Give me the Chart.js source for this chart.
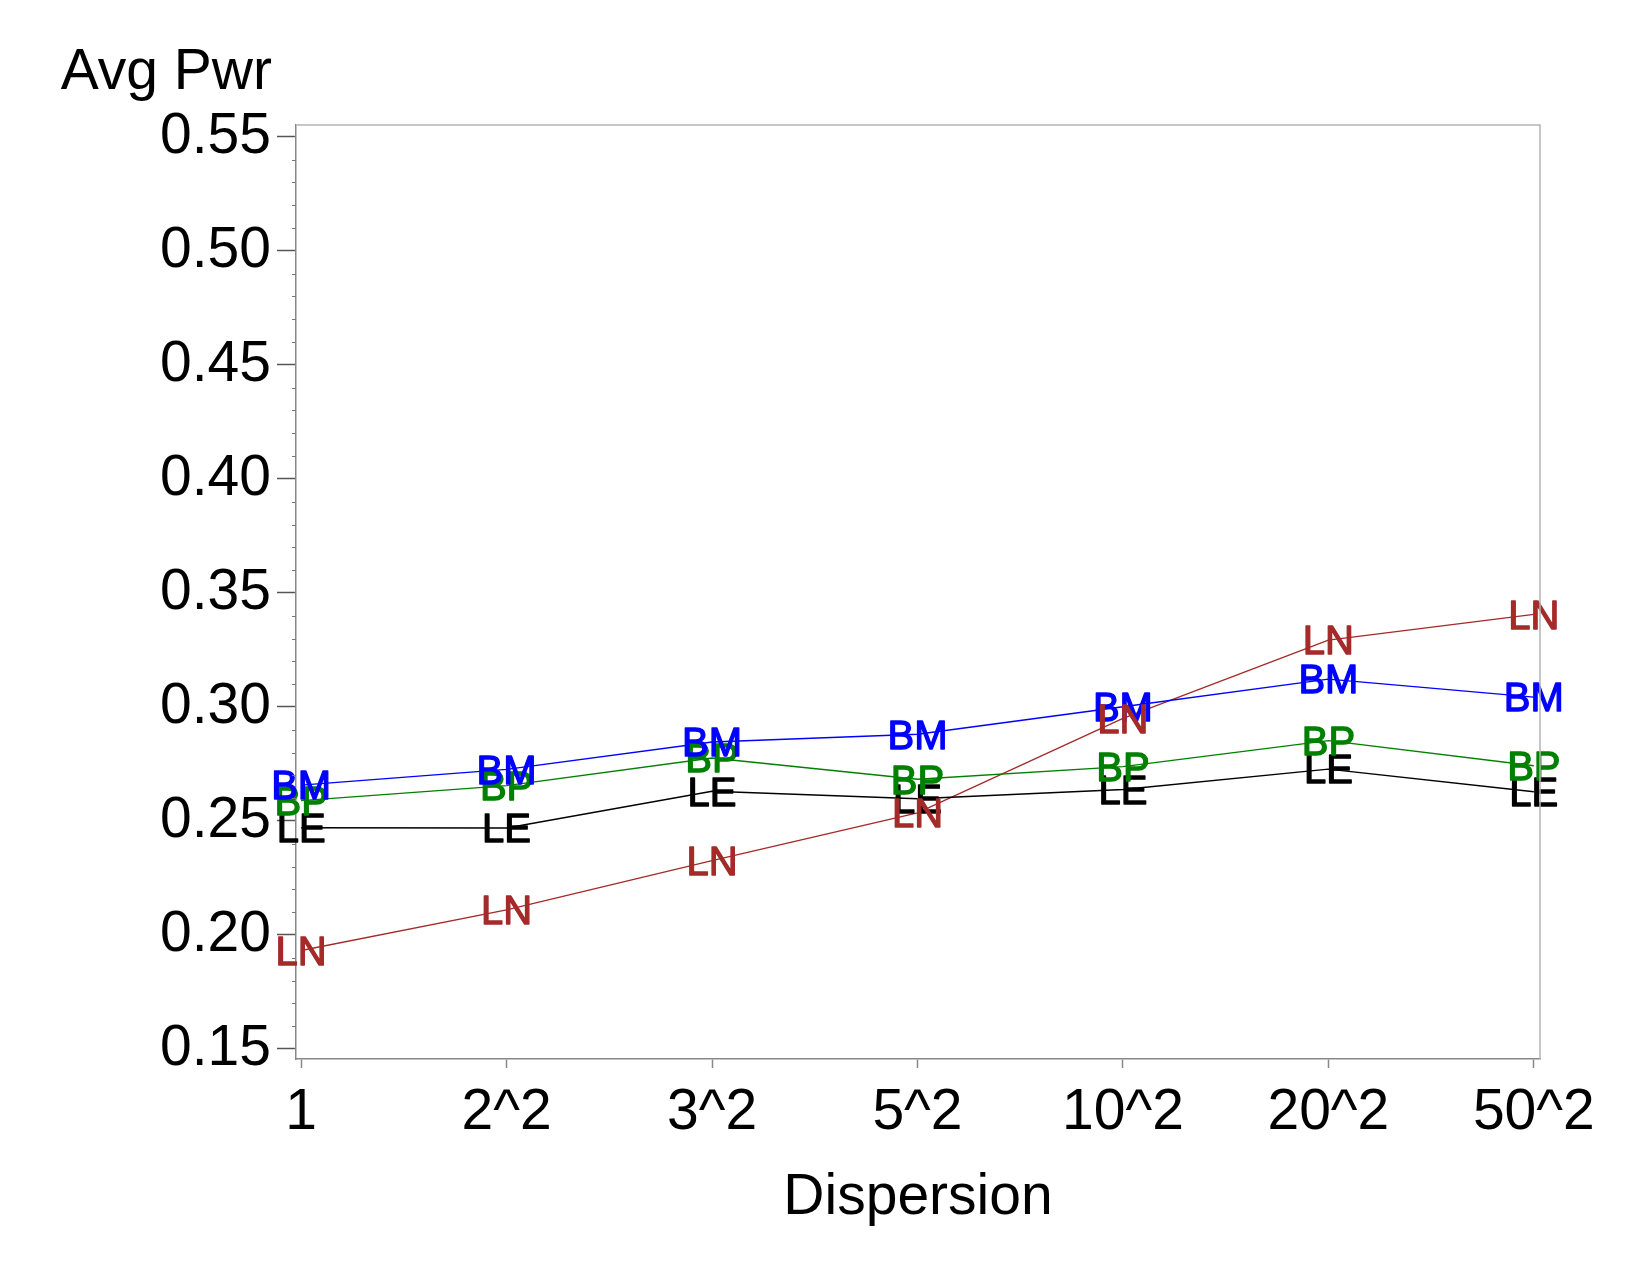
<!DOCTYPE html>
<html>
<head>
<meta charset="utf-8">
<script src="https://cdn.jsdelivr.net/npm/chart.js@4.4.1/dist/chart.umd.min.js"></script>
<style>
  html, body { margin: 0; padding: 0; background: #fff; }
  canvas { display: block; }
</style>
</head>
<body>
<canvas id="chart-power" width="1650" height="1275"></canvas>
<script>
const categories = ['1', '2^2', '3^2', '5^2', '10^2', '20^2', '50^2'];
const bmValues = [0.2657, 0.2726, 0.2846, 0.2880, 0.3001, 0.3122, 0.3043];
const bpValues = [0.2589, 0.2655, 0.2776, 0.2683, 0.2738, 0.2852, 0.2742];
const leValues = [0.2470, 0.2469, 0.2630, 0.2597, 0.2638, 0.2727, 0.2628];
const lnValues = [0.1932, 0.2110, 0.2326, 0.2535, 0.2950, 0.3293, 0.3406];
const yTicks = [0.15, 0.20, 0.25, 0.30, 0.35, 0.40, 0.45, 0.50, 0.55];

const FONT = "'Liberation Sans', Arial, sans-serif";
// drawn in this order, last one ends up on top
const series = [
  { name: 'LE', values: leValues, color: '#000000' },
  { name: 'BP', values: bpValues, color: '#008000' },
  { name: 'BM', values: bmValues, color: '#0000ff' },
  { name: 'LN', values: lnValues, color: '#a52a2a' }
];

const MARK_SIZE = 40;
const labelMarkers = {
  id: 'labelMarkers',
  afterDatasetsDraw(chart) {
    const ctx = chart.ctx;
    ctx.save();
    ctx.font = `${MARK_SIZE}px ${FONT}`;
    ctx.textAlign = 'center';
    ctx.textBaseline = 'alphabetic';
    ctx.lineWidth = 1.3;
    ctx.lineJoin = 'round';
    chart.data.datasets.forEach((ds, di) => {
      const meta = chart.getDatasetMeta(di);
      ctx.fillStyle = ds.borderColor;
      ctx.strokeStyle = ds.borderColor;
      meta.data.forEach((pt) => {
        // cap height of the label centred on the point
        const by = pt.y + 0.358 * MARK_SIZE;
        ctx.fillText(ds.label, pt.x, by);
        ctx.strokeText(ds.label, pt.x, by);
      });
    });
    ctx.restore();
  }
};

const frameAndExtras = {
  id: 'frameAndExtras',
  afterDraw(chart) {
    const { ctx, chartArea: a, scales } = chart;
    ctx.save();
    // top and right frame
    ctx.strokeStyle = '#b4b4b4';
    ctx.lineWidth = 1.5;
    ctx.beginPath();
    ctx.moveTo(a.left, a.top);
    ctx.lineTo(a.right, a.top);
    ctx.lineTo(a.right, a.bottom);
    ctx.stroke();
    // minor ticks on y
    ctx.strokeStyle = '#777';
    ctx.lineWidth = 1;
    for (let i = 0; i < yTicks.length - 1; i++) {
      const step = (yTicks[i + 1] - yTicks[i]) / 5;
      for (let k = 1; k < 5; k++) {
        const py = Math.round(scales.y.getPixelForValue(yTicks[i] + k * step)) + 0.5;
        ctx.beginPath();
        ctx.moveTo(a.left - 4, py);
        ctx.lineTo(a.left, py);
        ctx.stroke();
      }
    }
    // y axis title, horizontal above the axis
    ctx.fillStyle = '#000';
    ctx.font = `57px ${FONT}`;
    ctx.textAlign = 'right';
    ctx.textBaseline = 'alphabetic';
    ctx.fillText('Avg Pwr', a.left - 24, a.top - 36);
    ctx.restore();
  }
};

new Chart(document.getElementById('chart-power'), {
  type: 'line',
  data: {
    datasets: series.map((s) => ({
      label: s.name,
      data: s.values.map((v, i) => ({ x: i, y: v })),
      borderColor: s.color,
      backgroundColor: s.color,
      borderWidth: 1.4,
      pointRadius: 0,
      tension: 0,
      fill: false
    }))
  },
  options: {
    responsive: false,
    animation: false,
    devicePixelRatio: 1,
    layout: { padding: { top: 125, right: 110, left: 0, bottom: 0 } },
    plugins: { legend: { display: false }, tooltip: { enabled: false }, title: { display: false } },
    scales: {
      x: {
        type: 'linear',
        min: -0.025,
        max: 6.03,
        afterBuildTicks: (s) => { s.ticks = categories.map((c, i) => ({ value: i })); },
        afterFit: (s) => { s.height = 216; },
        ticks: {
          callback: (v) => categories[v],
          font: { family: FONT, size: 57 },
          color: '#000',
          padding: 11,
          maxRotation: 0,
          autoSkip: false
        },
        grid: { drawOnChartArea: false, drawTicks: true, tickLength: 9, tickColor: '#888', tickWidth: 1.5 },
        border: { color: '#888', width: 1.5 },
        title: { display: true, text: 'Dispersion', font: { family: FONT, size: 57 }, color: '#000', padding: { top: 0, bottom: 43 } }
      },
      y: {
        type: 'linear',
        min: 0.1456,
        max: 0.5552,
        afterBuildTicks: (s) => { s.ticks = yTicks.map((v) => ({ value: v })); },
        afterFit: (s) => { s.width = 296; },
        ticks: {
          callback: (v) => v.toFixed(2),
          font: { family: FONT, size: 57 },
          color: '#000',
          padding: 6
        },
        grid: { drawOnChartArea: false, drawTicks: true, tickLength: 19, tickColor: '#555', tickWidth: 1.5 },
        border: { color: '#888', width: 1.5 }
      }
    }
  },
  plugins: [labelMarkers, frameAndExtras]
});
</script>
</body>
</html>
